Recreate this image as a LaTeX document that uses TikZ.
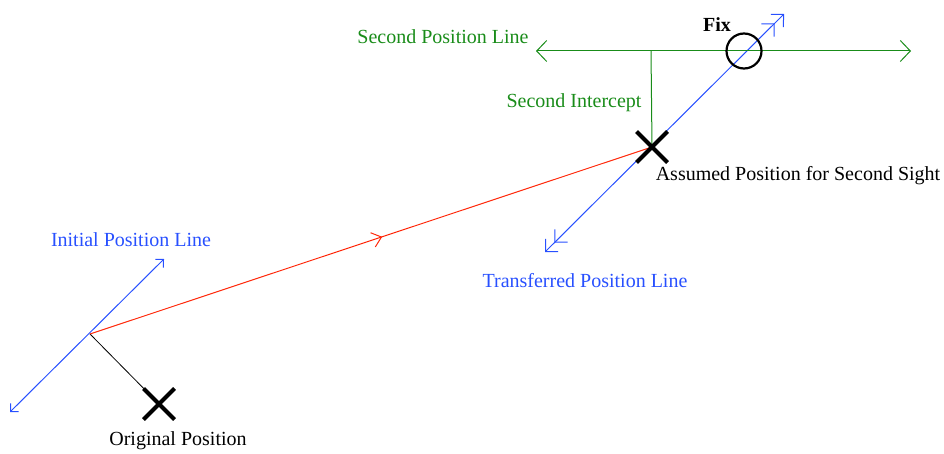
\documentclass[tikz,border=0pt]{standalone}
\usepackage{fontspec}
\setmainfont{Liberation Serif}
\usetikzlibrary{arrows.meta,shapes.misc,decorations.markings,backgrounds}
\definecolor{plblue}{RGB}{40,80,255}
\definecolor{plgreen}{RGB}{25,140,25}
\definecolor{plred}{RGB}{255,40,10}
\tikzset{
  initarrow/.tip={Straight Barb[length=5.7pt,width=11.4pt,line width=1pt]},
  dblarrow/.tip={Straight Barb[length=9pt,width=18pt,line width=1pt,sep=3pt] Straight Barb[length=9pt,width=18pt,line width=1pt]},
  grarrow/.tip={Straight Barb[length=10pt,width=21pt,line width=1pt]},
  midarrow/.tip={Straight Barb[length=9pt,width=15pt,line width=1pt]}
}
\begin{document}
\begin{tikzpicture}[x=1pt,y=-1pt,
  lbl/.style={inner sep=0pt,font=\fontsize{20}{22}\selectfont},
  xmark/.style={cross out,draw=black,line width=4pt,minimum size=27pt,inner sep=0pt},
  bluel/.style={draw=plblue,line width=1pt},
  greenl/.style={draw=plgreen,line width=1pt}
]
\useasboundingbox (0,0) rectangle (944,454);
% coordinates
\coordinate (ilA) at (10,412);
\coordinate (ilB) at (164,259);
\coordinate (P1) at (90,334);
\coordinate (tlA) at (545,252);
\coordinate (tlB) at (784,14);
\coordinate (slA) at (536,51);
\coordinate (slB) at (911,51);
\coordinate (foot) at (651,51);
% marks
\node[xmark] (orig) at (159,404) {};
\node[xmark] (assumed) at (652,147) {};
\node[circle,draw=black,line width=2.2pt,minimum size=35pt,inner sep=0pt] (fix) at (744,51) {};
% lines
\begin{pgfonlayer}{background}
\draw[bluel,{initarrow}-{initarrow}] (ilA) -- (ilB);
\draw[bluel,{dblarrow}-{dblarrow}] (tlA) -- (tlB);
\draw[greenl,{grarrow}-{grarrow}] (slA) -- (slB);
\draw[greenl] (foot) -- (assumed.center);
\draw[black,line width=0.8pt] (P1) -- (orig.center);
\draw[plred,line width=1pt,postaction={decorate},
  decoration={markings,mark=at position 0.52 with {\arrow{midarrow}}}]
  (P1) -- (assumed.center);
\end{pgfonlayer}
% labels
\node[lbl,text=plgreen] (splbl) at (443,37) {Second Position Line};
\node[lbl,font=\fontsize{20}{22}\selectfont\bfseries] (fixlbl) at (717,25) {Fix};
\node[lbl,text=plgreen] (silbl) at (574,103) {Second Intercept};
\node[lbl] (aplbl) at (798,176) {Assumed Position for Second Sight};
\node[lbl,text=plblue] (iplbl) at (131,240) {Initial Position Line};
\node[lbl,text=plblue] (tplbl) at (585,281) {Transferred Position Line};
\node[lbl] (oplbl) at (178,441) {Original Position};
\end{tikzpicture}
\end{document}
